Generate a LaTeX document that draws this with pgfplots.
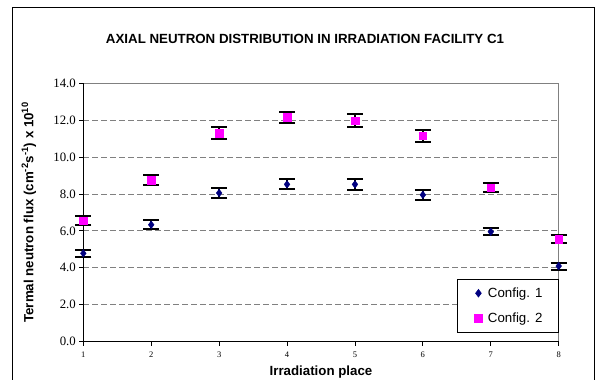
\documentclass[border=0pt]{standalone}
\usepackage{pgfplots}
\pgfplotsset{compat=1.18}
\usepackage{pgfplotstable}
\usepackage{fontspec}
\setmainfont{Liberation Sans}
\newfontfamily\serif{Liberation Serif}
\definecolor{navyc}{HTML}{000080}
\definecolor{magc}{HTML}{FF00FF}
\definecolor{gridc}{HTML}{808080}
\pgfplotstableread{
x y e
1 4.78 0.18
2 6.33 0.24
3 8.05 0.25
4 8.52 0.27
5 8.52 0.28
6 7.95 0.26
7 5.95 0.20
8 4.09 0.19
}\configone
\pgfplotstableread{
x y e
1 6.55 0.25
2 8.76 0.27
3 11.31 0.32
4 12.15 0.31
5 11.98 0.33
6 11.15 0.32
7 8.33 0.25
8 5.56 0.22
}\configtwo
\begin{document}
\begin{tikzpicture}
\useasboundingbox (0bp,0bp) rectangle (596bp,380bp);
\draw[black, line width=0.8bp] (12.7bp,-5bp) -- (12.7bp,373bp) -- (594bp,373bp) -- (594bp,-5bp);
\node[anchor=base, font=\bfseries\fontsize{13.3bp}{16bp}\selectfont] at (305bp,336bp) {AXIAL NEUTRON DISTRIBUTION IN IRRADIATION FACILITY C1};
\begin{axis}[
  scale only axis,
  width=475.4bp, height=258.2bp,
  at={(83.3bp,38.5bp)}, anchor=south west,
  xmin=1, xmax=8, ymin=0, ymax=14,
  xtick={1,2,...,8},
  ytick={0,2,...,14},
  axis line style={gridc, line width=1.2bp},
  tick align=outside,
  major tick length=4bp,
  tick style={black, line width=0.8bp},
  xtick pos=bottom, ytick pos=left,
  ymajorgrids,
  major grid style={gridc, line width=0.8bp, dash pattern=on 5.5bp off 3.5bp},
  /pgf/number format/assume math mode=true,
  yticklabel style={font=\serif\fontsize{12.8bp}{14bp}\selectfont, /pgf/number format/.cd, fixed, fixed zerofill, precision=1},
  xticklabel style={font=\serif\fontsize{8.5bp}{10bp}\selectfont, yshift=-3bp},
  every axis x label/.style={at={(axis description cs:0.5,0)}, yshift=-33.5bp, anchor=base},
  every axis y label/.style={at={(axis description cs:0,0.5)}, xshift=-50bp, rotate=90, anchor=base},
  xlabel={\bfseries Irradiation place},
  ylabel={\bfseries Termal neutron flux (cm\textsuperscript{-2}s\textsuperscript{-1}) x 10\textsuperscript{10}},
  label style={font=\bfseries\fontsize{13.3bp}{16bp}\selectfont},
  legend style={at={(axis description cs:1,0.036)}, anchor=south east, draw=black, line width=0.6bp,
    font=\fontsize{13.3bp}{16bp}\selectfont, inner xsep=14bp, inner ysep=6bp, row sep=10bp},
  legend cell align=left,
  legend image code/.code={\path[draw=none, fill=none] (-7bp,0bp) -- (7.5bp,0bp); \draw[#1] plot coordinates {(0bp,0bp)};},
  clip=false,
]
\addplot[only marks, mark=diamond*, mark size=3.8bp, navyc,
  error bars/.cd, y dir=both, y explicit,
  error bar style={black, line width=1.6bp},
  error mark options={rotate=90, black, mark size=8bp, line width=2bp}]
  table[x=x, y=y, y error=e] {\configone};
\addlegendentry{Config. 1}
\addplot[only marks, mark=square*, mark size=3.8bp, magc,
  error bars/.cd, y dir=both, y explicit,
  error bar style={black, line width=1.6bp},
  error mark options={rotate=90, black, mark size=8bp, line width=2bp}]
  table[x=x, y=y, y error=e] {\configtwo};
\addlegendentry{Config. 2}
\draw[black, line width=1.4bp] (rel axis cs:0,1) -- (rel axis cs:0,0) -- (rel axis cs:1,0);
\end{axis}
\end{tikzpicture}
\end{document}
